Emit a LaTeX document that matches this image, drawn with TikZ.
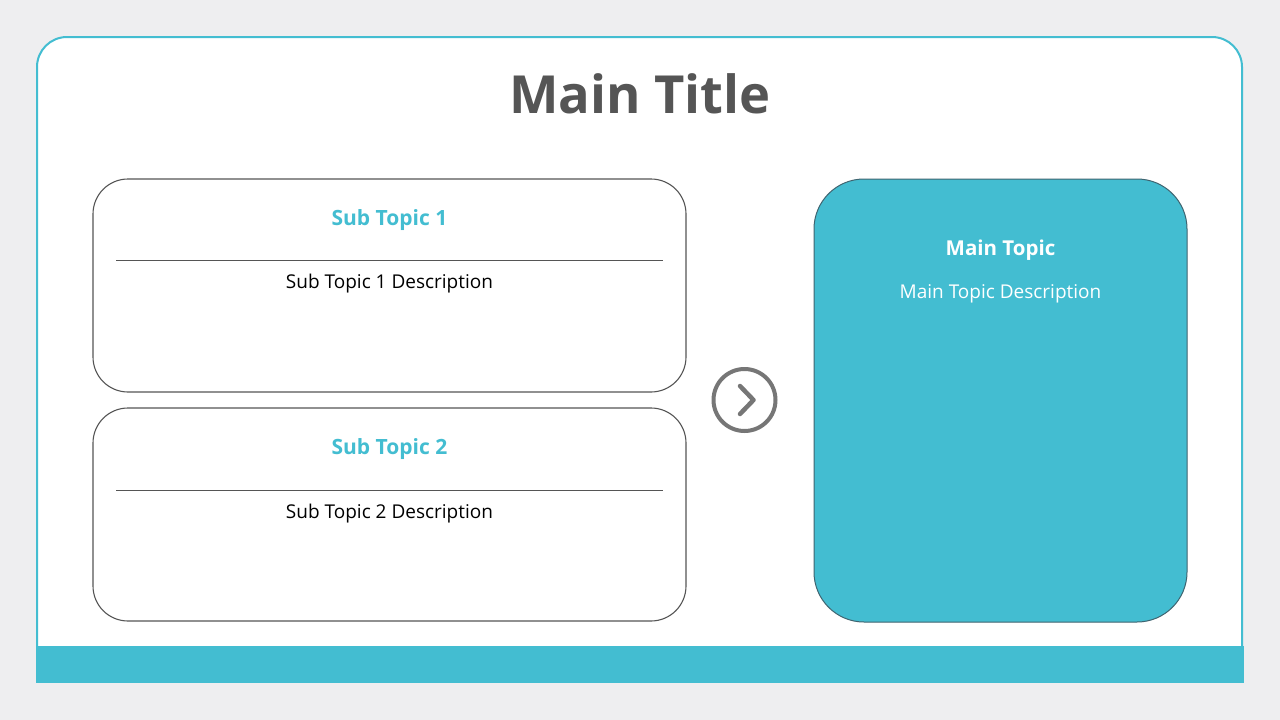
\documentclass[tikz,border=0pt]{standalone}
\usepackage{fontspec}
\setmainfont{Open Sans}
\definecolor{bgc}{HTML}{EEEEF0}
\definecolor{teal}{HTML}{43BDD1}
\definecolor{titlec}{HTML}{555555}
\definecolor{boxline}{HTML}{555555}
\definecolor{mainline}{HTML}{3F6470}
\definecolor{iconc}{HTML}{767676}
\begin{document}
\begin{tikzpicture}[x=1pt,y=-1pt,
  subbox/.style={draw=boxline,line width=1.1pt,fill=white,rounded corners=35pt,minimum width=593pt,minimum height=213pt,inner sep=0pt},
  mainbox/.style={draw=mainline,line width=1pt,fill=teal,rounded corners=50pt,minimum width=373pt,minimum height=443pt,inner sep=0pt},
  subhead/.style={text=teal,font=\fontsize{21}{25}\selectfont\bfseries},
  subdesc/.style={text=black,font=\fontsize{19}{23}\selectfont},
  sepline/.style={draw=boxline,line width=0.8pt},
]
\useasboundingbox (0,0) rectangle (1280,720);
\fill[bgc] (0,0) rectangle (1280,720);
% frame
\filldraw[fill=white,draw=teal,line width=2pt,rounded corners=30pt] (37,650) -- (37,37) -- (1242,37) -- (1242,650);
\fill[teal] (36,646) rectangle (1244,683);
% title
\node[text=titlec,font=\fontsize{52.5}{63}\selectfont\bfseries] (title) at (640,94) {Main Title};
% sub topic boxes
\node[subbox] (box1) at (389.5,285.5) {};
\node[subhead] (h1) at (389.5,220) {Sub Topic 1};
\coordinate (l1a) at (116,260);
\coordinate (l1b) at (663,260);
\draw[sepline] (l1a) -- (l1b);
\node[subdesc] (d1) at (389.5,283.5) {Sub Topic 1 Description};
\node[subbox] (box2) at (389.5,514.5) {};
\node[subhead] (h2) at (389.5,449) {Sub Topic 2};
\coordinate (l2a) at (116,490);
\coordinate (l2b) at (663,490);
\draw[sepline] (l2a) -- (l2b);
\node[subdesc] (d2) at (389.5,513.5) {Sub Topic 2 Description};
% arrow icon
\node[circle,draw=iconc,line width=4pt,minimum size=62pt,inner sep=0pt] (icon) at (744.5,400) {};
\coordinate (cva) at (740,386);
\coordinate (cvb) at (753.5,400);
\coordinate (cvc) at (740,414);
\draw[iconc,line width=4.5pt,line cap=round,line join=round] (cva) -- (cvb) -- (cvc);
% main topic
\node[mainbox] (mainb) at (1000.5,400.5) {};
\node[text=white,font=\fontsize{20.5}{25}\selectfont\bfseries] (mh) at (1000.5,250) {Main Topic};
\node[text=white,font=\fontsize{19}{23}\selectfont] (md) at (1000.5,293.5) {Main Topic Description};
\end{tikzpicture}
\end{document}
